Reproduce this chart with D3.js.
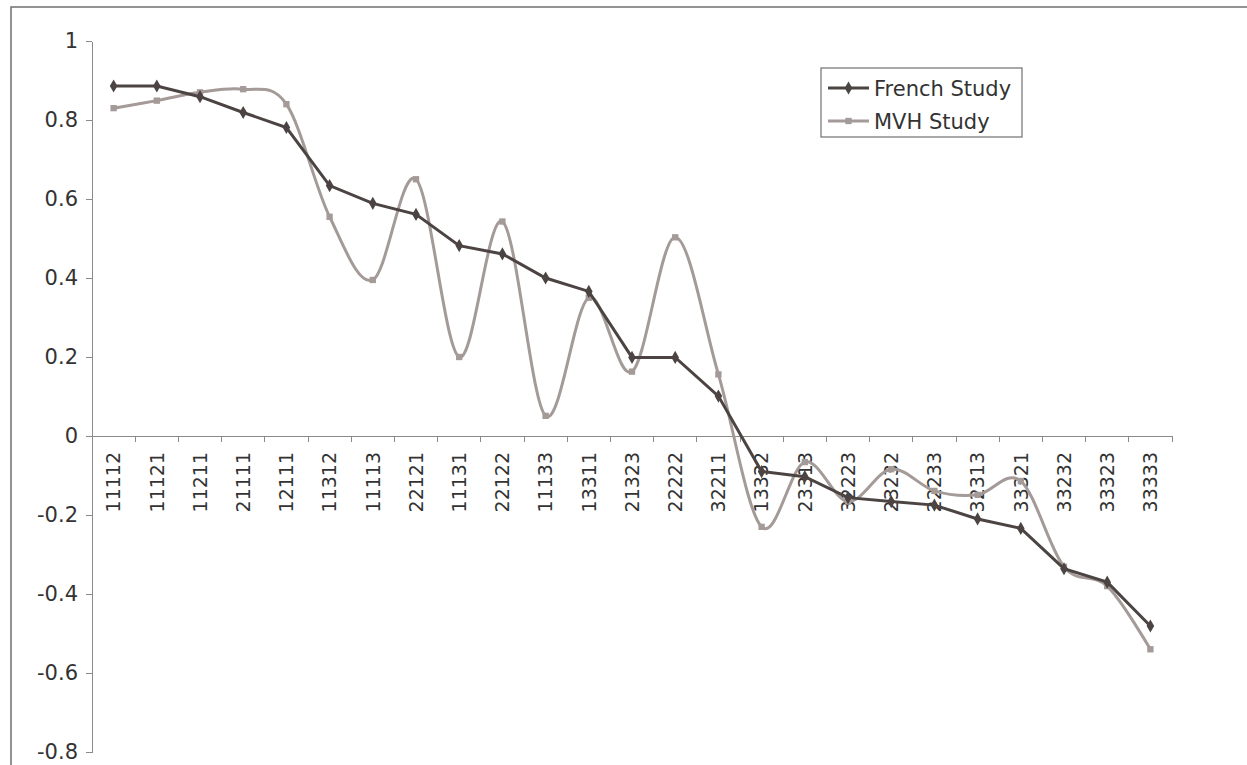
<!DOCTYPE html>
<head>
  <meta charset="utf-8">
  <title>French Study vs MVH Study</title>
</head>
<style>
body {
  margin: 0;
  background: #fff;
  font-family: "DejaVu Sans", Verdana, sans-serif;
}
.axis path,
.axis line {
  fill: none;
  stroke: #8a8a8a;
  shape-rendering: crispEdges;
}
.axis text {
  fill: #333;
  font-family: "DejaVu Sans", Verdana, sans-serif;
  font-size: 19px;
}
.yaxis text {
  font-size: 21px;
}
</style>
<body>
<div id="chart"></div>

<script src="https://d3js.org/d3.v7.min.js"></script>
<script>

// categories along the x axis
var states = ["11112", "11121", "11211", "21111", "12111", "11312", "11113", "22121",
              "11131", "22122", "11133", "13311", "21323", "22222", "32211", "13332",
              "23313", "32223", "23232", "22233", "32313", "33321", "33232", "33323", "33333"];

// series values
var frenchStudy = [0.886, 0.886, 0.859, 0.819, 0.781, 0.634, 0.589, 0.561, 0.482, 0.461,
                   0.400, 0.366, 0.199, 0.199, 0.101, -0.090, -0.103, -0.156, -0.166, -0.175,
                   -0.210, -0.234, -0.336, -0.370, -0.481];
var mvhStudy = [0.830, 0.849, 0.870, 0.878, 0.840, 0.555, 0.395, 0.650, 0.200, 0.543,
                0.051, 0.350, 0.163, 0.503, 0.156, -0.230, -0.066, -0.166, -0.084, -0.139,
                -0.149, -0.114, -0.331, -0.380, -0.540];

var yTicks = [-0.8, -0.6, -0.4, -0.2, 0, 0.2, 0.4, 0.6, 0.8, 1];
var yTickLabels = ["-0.8", "-0.6", "-0.4", "-0.2", "0", "0.2", "0.4", "0.6", "0.8", "1"];

var seriesNames = ["French Study", "MVH Study"];

var W = 1247, H = 765;
var plotLeft = 92, plotRight = 1172, plotTop = 41, plotBottom = 752;

var svg = d3.select("#chart").append("svg")
    .attr("width", W)
    .attr("height", H);

// chart frame (runs off the right and bottom edges)
svg.append("rect")
    .attr("x", 11).attr("y", 7)
    .attr("width", W + 20).attr("height", H + 20)
    .attr("fill", "none")
    .attr("stroke", "#707070")
    .attr("stroke-width", 1.5);

var x = d3.scaleBand().domain(states).range([plotLeft, plotRight]).padding(0);
var y = d3.scaleLinear().domain([-0.8, 1]).range([plotBottom, plotTop]);

// y axis
svg.append("g")
    .attr("class", "axis yaxis")
    .attr("transform", "translate(" + plotLeft + ",0)")
    .call(d3.axisLeft(y)
        .tickValues(yTicks)
        .tickSize(6)
        .tickSizeOuter(0)
        .tickPadding(8)
        .tickFormat(function(d, i) { return yTickLabels[i]; }));

// x axis at zero, labels rotated
var xAxis = svg.append("g")
    .attr("class", "axis")
    .attr("transform", "translate(0," + y(0) + ")")
    .call(d3.axisBottom(x).tickSize(0).tickSizeOuter(0));

xAxis.selectAll(".tick text")
    .attr("transform", "rotate(-90)")
    .attr("x", -16)
    .attr("y", 0)
    .attr("dy", "0.36em")
    .style("text-anchor", "end");

// tick marks sit between the categories
var bounds = states.map(function(d) { return x(d); }).concat([plotRight]);
xAxis.selectAll(".bound")
    .data(bounds)
    .enter().append("line")
    .attr("class", "bound")
    .attr("x1", function(d) { return d; })
    .attr("x2", function(d) { return d; })
    .attr("y1", 0)
    .attr("y2", 6)
    .attr("stroke", "#8a8a8a");

var cx = function(d, i) { return x(states[i]) + x.bandwidth() / 2; };

var frenchColor = "#4b4442", mvhColor = "#a49a97";

// MVH study: smoothed line with square markers
var smooth = d3.line()
    .x(cx)
    .y(function(d) { return y(d); })
    .curve(d3.curveCardinal);

svg.append("path")
    .datum(mvhStudy)
    .attr("d", smooth)
    .attr("fill", "none")
    .attr("stroke", mvhColor)
    .attr("stroke-width", 3);

svg.selectAll(".mvh")
    .data(mvhStudy)
    .enter().append("path")
    .attr("class", "mvh")
    .attr("d", d3.symbol().type(d3.symbolSquare).size(40))
    .attr("transform", function(d, i) { return "translate(" + cx(d, i) + "," + y(d) + ")"; })
    .attr("fill", mvhColor);

// French study: straight line with diamond markers
var straight = d3.line()
    .x(cx)
    .y(function(d) { return y(d); });

svg.append("path")
    .datum(frenchStudy)
    .attr("d", straight)
    .attr("fill", "none")
    .attr("stroke", frenchColor)
    .attr("stroke-width", 3);

svg.selectAll(".french")
    .data(frenchStudy)
    .enter().append("path")
    .attr("class", "french")
    .attr("d", d3.symbol().type(d3.symbolDiamond).size(50))
    .attr("transform", function(d, i) { return "translate(" + cx(d, i) + "," + y(d) + ")"; })
    .attr("fill", frenchColor);

// legend
var legend = svg.append("g").attr("transform", "translate(821,68)");

legend.append("rect")
    .attr("width", 201).attr("height", 69)
    .attr("fill", "#fff")
    .attr("stroke", "#707070")
    .attr("stroke-width", 1.2);

var legColors = [frenchColor, mvhColor];
var legSymbols = [d3.symbolDiamond, d3.symbolSquare];

seriesNames.forEach(function(name, i) {
  var ly = 20 + i * 33;
  legend.append("line")
      .attr("x1", 7).attr("x2", 48)
      .attr("y1", ly).attr("y2", ly)
      .attr("stroke", legColors[i])
      .attr("stroke-width", 3);
  legend.append("path")
      .attr("d", d3.symbol().type(legSymbols[i]).size(i == 0 ? 50 : 40))
      .attr("transform", "translate(27.5," + ly + ")")
      .attr("fill", legColors[i]);
  legend.append("text")
      .attr("x", 53)
      .attr("y", ly)
      .attr("dy", "0.36em")
      .style("font-size", "21px")
      .style("fill", "#333")
      .text(name);
});

</script>
</body>
